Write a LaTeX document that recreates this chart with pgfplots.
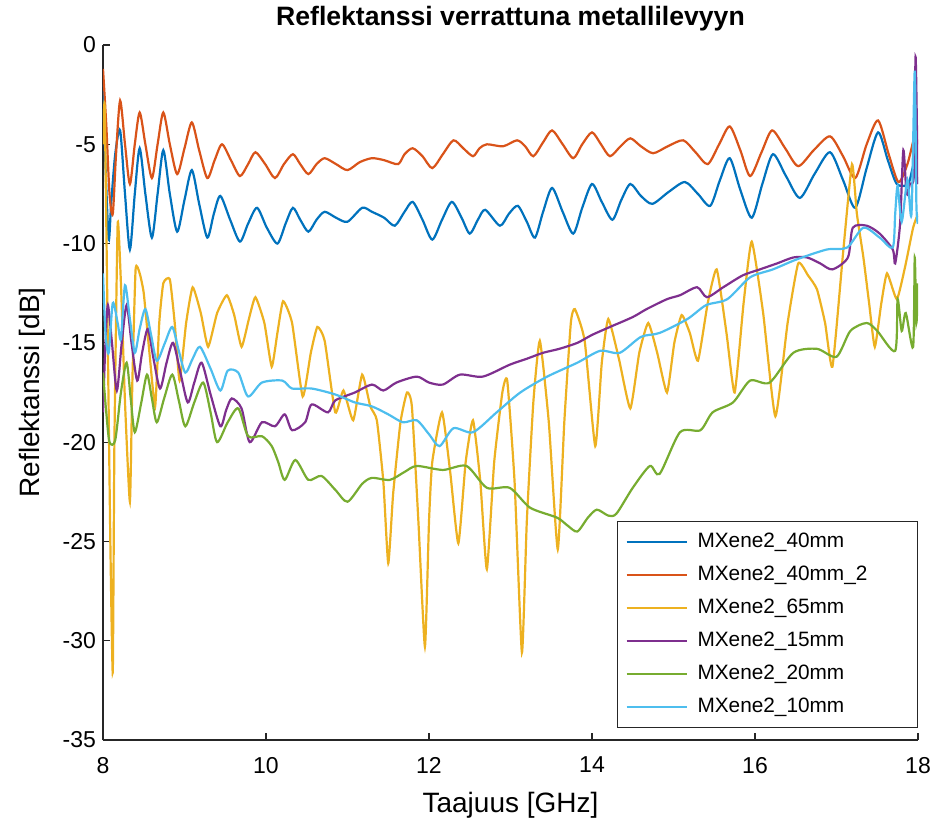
\documentclass[border=0pt]{standalone}
\usepackage{fontspec}
\setmainfont{Liberation Sans}
\usepackage{pgfplots}
\pgfplotsset{compat=1.18}
\definecolor{cA}{rgb}{0,0.447,0.741}
\definecolor{cB}{rgb}{0.85,0.325,0.098}
\definecolor{cC}{rgb}{0.929,0.694,0.125}
\definecolor{cD}{rgb}{0.494,0.184,0.556}
\definecolor{cE}{rgb}{0.466,0.674,0.188}
\definecolor{cF}{rgb}{0.301,0.745,0.933}
\begin{document}
\begin{tikzpicture}
\begin{axis}[
  scale only axis, width=407.5pt, height=347.5pt,
  xmin=8, xmax=18, ymin=-35, ymax=0,
  axis lines=left,
  axis line style={-, color=black!85, line width=0.6pt},
  tick align=inside, major tick length=3.5pt,
  tick style={color=black!85, line width=0.6pt},
  xtick={8,10,...,18}, ytick={-35,-30,...,0},
  /pgf/number format/assume math mode=true,
  ticklabel style={font=\fontsize{11.5}{13}\selectfont},
  xticklabel style={yshift=-5pt},
  xlabel={Taajuus [GHz]}, ylabel={Reflektanssi [dB]},
  label style={font=\fontsize{14}{16}\selectfont},
  xlabel style={at={(axis description cs:0.5,-0.0935)}, anchor=center},
  ylabel style={at={(axis description cs:-0.087,0.5)}, anchor=center},
  title={\textbf{Reflektanssi verrattuna metallilevyyn}},
  title style={font=\fontsize{13.3}{15}\selectfont, at={(axis description cs:0.5,1.021)}, anchor=center},
  legend cell align=left,
  legend image code/.code={\draw[#1, line width=1pt] (0pt,0pt) -- (30pt,0pt);},
  legend style={at={(axis description cs:1,0.0173)}, anchor=south east,
    draw=black!85, line width=0.5pt, font=\fontsize{10.4}{12}\selectfont,
    inner xsep=4pt, inner ysep=5pt, row sep=6pt,
    nodes={inner sep=0pt, text height=8pt, text depth=2.5pt, text width=106pt},
    /tikz/every odd column/.append style={column sep=5pt}},
  every axis plot/.append style={line width=1.1pt, smooth, tension=0.45},
]
\addplot[cA] coordinates {
(8.00,-2.0)(8.03,-6.0)(8.07,-9.8)(8.10,-8.0)(8.15,-5.5)(8.21,-4.3)(8.27,-7.5)(8.33,-10.3)(8.39,-7.5)(8.45,-5.2)
(8.52,-7.5)(8.60,-9.7)(8.67,-7.5)(8.74,-5.3)(8.82,-7.5)(8.91,-9.4)(9.00,-7.8)(9.09,-6.3)(9.18,-8.0)(9.28,-9.7)
(9.36,-8.5)(9.44,-7.6)(9.56,-8.8)(9.68,-9.9)(9.78,-9.0)(9.89,-8.2)(10.01,-9.2)(10.14,-10.0)(10.24,-9.0)(10.33,-8.2)
(10.42,-8.8)(10.52,-9.4)(10.62,-8.8)(10.72,-8.4)(10.86,-8.7)(11.00,-8.9)(11.18,-8.2)(11.30,-8.4)(11.45,-8.7)(11.58,-9.1)
(11.70,-8.4)(11.80,-7.9)(11.92,-8.8)(12.04,-9.8)(12.16,-8.8)(12.28,-7.9)(12.40,-8.7)(12.50,-9.5)(12.60,-8.8)(12.69,-8.3)
(12.87,-9.1)(12.98,-8.5)(13.09,-8.1)(13.20,-8.9)(13.30,-9.7)(13.40,-8.4)(13.51,-7.2)(13.64,-8.4)(13.77,-9.5)(13.88,-8.2)
(14.00,-7.0)(14.12,-7.9)(14.25,-8.8)(14.36,-7.8)(14.47,-7.0)(14.60,-7.6)(14.74,-8.0)(14.94,-7.4)(15.14,-6.9)(15.30,-7.5)
(15.45,-8.1)(15.57,-6.8)(15.69,-5.7)(15.82,-7.3)(15.96,-8.7)(16.09,-7.0)(16.22,-5.5)(16.38,-6.6)(16.55,-7.7)(16.73,-6.5)
(16.92,-5.4)(17.08,-6.8)(17.23,-8.2)(17.37,-6.2)(17.51,-4.4)(17.63,-5.8)(17.74,-7.0)(17.88,-7.0)(17.95,-6.0)(18.00,-7.0)
};
\addlegendentry{MXene2\_40mm}
\addplot[cB] coordinates {
(8.00,-1.2)(8.04,-4.0)(8.08,-7.5)(8.12,-8.5)(8.16,-5.5)(8.21,-2.8)(8.27,-5.0)(8.33,-7.0)(8.39,-5.0)(8.45,-3.4)
(8.52,-5.0)(8.60,-6.7)(8.67,-5.0)(8.74,-3.4)(8.82,-5.0)(8.91,-6.5)(9.00,-5.2)(9.09,-3.9)(9.18,-5.3)(9.28,-6.7)
(9.37,-5.8)(9.46,-5.0)(9.57,-5.8)(9.68,-6.6)(9.78,-6.0)(9.87,-5.4)(9.99,-6.0)(10.11,-6.7)(10.22,-6.0)(10.33,-5.5)
(10.42,-6.0)(10.52,-6.5)(10.62,-6.0)(10.72,-5.7)(10.86,-6.0)(11.00,-6.3)(11.15,-5.9)(11.30,-5.7)(11.45,-5.8)(11.62,-6.0)
(11.70,-5.5)(11.80,-5.2)(11.92,-5.6)(12.04,-6.2)(12.17,-5.5)(12.30,-4.8)(12.42,-5.2)(12.54,-5.6)(12.62,-5.2)(12.71,-5.0)
(12.91,-5.1)(13.08,-4.8)(13.18,-5.1)(13.28,-5.6)(13.40,-4.9)(13.51,-4.3)(13.64,-5.0)(13.77,-5.7)(13.88,-5.0)(14.00,-4.4)
(14.11,-5.0)(14.22,-5.6)(14.35,-5.1)(14.47,-4.7)(14.60,-5.1)(14.75,-5.45)(14.93,-5.1)(15.12,-4.8)(15.27,-5.4)(15.42,-6.0)
(15.56,-5.0)(15.69,-4.1)(15.82,-5.3)(15.94,-6.6)(16.08,-5.4)(16.21,-4.3)(16.37,-5.2)(16.53,-6.1)(16.72,-5.3)(16.92,-4.6)
(17.08,-5.6)(17.23,-6.7)(17.37,-5.0)(17.51,-3.8)(17.64,-5.5)(17.76,-6.9)(17.87,-6.0)(17.96,-4.6)(18.00,-5.0)
};
\addlegendentry{MXene2\_40mm\_2}
\addplot[cC, tension=0.3] coordinates {
(8.00,-5.0)(8.02,-3.0)(8.05,-12.0)(8.09,-25.0)(8.12,-31.6)(8.14,-20.0)(8.18,-9.0)(8.22,-12.0)(8.27,-18.0)(8.33,-23.0)
(8.36,-17.0)(8.40,-11.3)(8.45,-11.5)(8.50,-12.5)(8.57,-15.5)(8.64,-18.2)(8.69,-14.0)(8.74,-12.0)(8.82,-11.8)(8.88,-14.0)
(8.94,-16.9)(9.02,-14.0)(9.10,-12.2)(9.20,-13.5)(9.29,-15.2)(9.40,-13.5)(9.52,-12.6)(9.61,-13.6)(9.70,-15.2)(9.79,-13.8)
(9.87,-12.7)(9.98,-14.0)(10.07,-16.2)(10.14,-14.5)(10.21,-12.9)(10.32,-14.0)(10.45,-17.7)(10.55,-15.5)(10.63,-14.2)(10.72,-14.9)
(10.85,-18.5)(10.95,-17.4)(11.07,-18.9)(11.18,-16.6)(11.28,-18.2)(11.36,-18.9)(11.44,-22.0)(11.50,-26.1)(11.56,-22.6)(11.65,-19.0)
(11.73,-17.5)(11.79,-18.2)(11.87,-24.0)(11.95,-30.3)(12.00,-24.0)(12.04,-21.0)(12.16,-18.5)(12.26,-21.5)(12.36,-25.1)(12.45,-21.0)
(12.54,-18.9)(12.63,-22.0)(12.71,-26.4)(12.80,-21.0)(12.90,-17.5)(12.96,-16.9)(13.05,-22.0)(13.14,-30.6)(13.20,-24.0)(13.28,-18.0)
(13.36,-14.9)(13.47,-19.0)(13.58,-25.4)(13.66,-19.0)(13.74,-14.0)(13.79,-13.3)(13.91,-14.9)(14.04,-20.2)(14.12,-16.0)(14.20,-13.8)
(14.33,-15.8)(14.47,-18.3)(14.58,-15.5)(14.69,-14.0)(14.80,-15.5)(14.92,-17.5)(15.01,-15.0)(15.10,-13.6)(15.20,-14.5)(15.30,-15.9)
(15.42,-13.0)(15.53,-11.3)(15.65,-14.5)(15.75,-17.5)(15.86,-13.0)(15.96,-9.9)(16.10,-13.5)(16.25,-18.7)(16.40,-14.0)(16.53,-11.0)
(16.65,-11.6)(16.76,-12.3)(16.86,-14.0)(16.95,-16.2)(17.08,-10.5)(17.19,-6.0)(17.25,-8.5)(17.33,-10.7)(17.40,-13.0)(17.47,-15.2)
(17.55,-13.0)(17.62,-11.5)(17.74,-12.8)(17.84,-11.2)(17.94,-9.2)(18.00,-8.5)
};
\addlegendentry{MXene2\_65mm}
\addplot[cD] coordinates {
(8.00,-18.5)(8.03,-15.0)(8.06,-13.1)(8.11,-15.0)(8.17,-17.4)(8.23,-15.0)(8.29,-13.1)(8.35,-15.0)(8.42,-16.9)(8.48,-15.5)
(8.55,-14.3)(8.62,-15.8)(8.70,-17.3)(8.78,-16.0)(8.86,-15.0)(8.95,-16.5)(9.04,-18.0)(9.12,-17.0)(9.21,-16.0)(9.32,-17.6)
(9.44,-19.2)(9.51,-18.4)(9.58,-17.8)(9.70,-18.3)(9.80,-20.0)(9.95,-19.0)(10.11,-19.2)(10.23,-18.6)(10.32,-19.4)(10.48,-19.0)
(10.56,-18.1)(10.76,-18.5)(10.85,-17.9)(11.09,-17.5)(11.30,-17.1)(11.44,-17.4)(11.60,-17.0)(11.85,-16.7)(12.00,-17.0)(12.17,-17.1)
(12.38,-16.6)(12.66,-16.7)(12.99,-16.1)(13.20,-15.8)(13.40,-15.5)(13.60,-15.3)(13.82,-15.0)(14.00,-14.6)(14.22,-14.2)(14.50,-13.7)
(14.67,-13.3)(14.92,-12.8)(15.08,-12.6)(15.29,-12.2)(15.41,-12.7)(15.61,-12.2)(15.85,-11.6)(16.06,-11.3)(16.27,-11.0)(16.47,-10.7)
(16.64,-10.7)(16.80,-11.0)(16.95,-11.3)(17.14,-10.7)(17.20,-9.2)(17.37,-9.1)(17.53,-9.5)(17.69,-10.3)(17.72,-11.0)(17.78,-9.0)
(17.82,-5.3)(17.86,-7.5)(17.90,-7.0)(17.95,-6.5)(17.97,-0.6)(17.99,-5.0)(18.00,-7.0)
};
\addlegendentry{MXene2\_15mm}
\addplot[cE] coordinates {
(8.00,-16.5)(8.04,-18.5)(8.08,-20.0)(8.15,-19.9)(8.22,-17.5)(8.29,-16.0)(8.34,-17.8)(8.39,-19.5)(8.47,-18.0)(8.54,-16.6)
(8.60,-17.8)(8.66,-19.0)(8.75,-17.8)(8.85,-16.6)(8.93,-17.9)(9.01,-19.2)(9.12,-18.0)(9.23,-17.0)(9.32,-18.5)(9.40,-20.0)
(9.53,-19.0)(9.66,-18.3)(9.78,-19.7)(9.95,-19.7)(10.07,-20.2)(10.15,-21.0)(10.23,-21.9)(10.36,-20.9)(10.52,-21.9)(10.68,-21.7)
(10.85,-22.4)(11.00,-23.0)(11.18,-22.1)(11.30,-21.8)(11.52,-21.9)(11.70,-21.5)(11.85,-21.2)(12.17,-21.4)(12.46,-21.2)(12.71,-22.3)
(12.99,-22.3)(13.24,-23.3)(13.57,-23.8)(13.70,-24.2)(13.82,-24.5)(13.95,-23.8)(14.06,-23.4)(14.20,-23.7)(14.30,-23.6)(14.50,-22.3)
(14.71,-21.2)(14.83,-21.6)(15.08,-19.5)(15.33,-19.4)(15.48,-18.5)(15.73,-18.0)(15.94,-16.9)(16.18,-17.0)(16.47,-15.5)(16.76,-15.3)
(17.00,-15.7)(17.17,-14.4)(17.37,-14.0)(17.50,-14.4)(17.72,-15.4)(17.75,-12.8)(17.80,-14.4)(17.85,-13.5)(17.94,-15.2)(17.96,-10.7)
(17.98,-14.0)(18.00,-12.0)
};
\addlegendentry{MXene2\_20mm}
\addplot[cF] coordinates {
(8.00,-11.5)(8.03,-14.5)(8.07,-15.5)(8.12,-13.0)(8.18,-14.0)(8.22,-14.8)(8.27,-12.1)(8.33,-13.8)(8.39,-15.5)(8.45,-14.3)
(8.52,-13.3)(8.59,-14.6)(8.66,-15.9)(8.76,-15.0)(8.85,-14.2)(8.93,-15.4)(9.01,-16.5)(9.10,-15.8)(9.19,-15.2)(9.32,-16.3)
(9.44,-17.4)(9.53,-16.4)(9.66,-16.5)(9.78,-17.7)(9.95,-17.0)(10.20,-16.9)(10.32,-17.3)(10.56,-17.3)(10.85,-17.6)(11.09,-18.0)
(11.30,-18.2)(11.50,-18.6)(11.68,-19.0)(11.85,-18.9)(12.00,-19.6)(12.13,-20.2)(12.30,-19.3)(12.54,-19.5)(12.83,-18.5)(13.12,-17.5)
(13.45,-16.7)(13.82,-16.0)(14.10,-15.4)(14.34,-15.5)(14.60,-14.7)(14.83,-14.5)(15.17,-13.8)(15.40,-13.1)(15.66,-12.8)(15.94,-11.7)
(16.22,-11.3)(16.51,-10.8)(16.88,-10.3)(17.13,-10.2)(17.33,-9.2)(17.53,-9.7)(17.69,-10.2)(17.72,-8.5)(17.75,-7.1)(17.80,-8.9)
(17.87,-6.8)(17.92,-8.5)(17.96,-1.3)(17.98,-8.0)(18.00,-9.0)
};
\addlegendentry{MXene2\_10mm}
\end{axis}
\pgfresetboundingbox
\path (-51.5pt,-42.5pt) rectangle (422pt,370pt);
\end{tikzpicture}
\end{document}
